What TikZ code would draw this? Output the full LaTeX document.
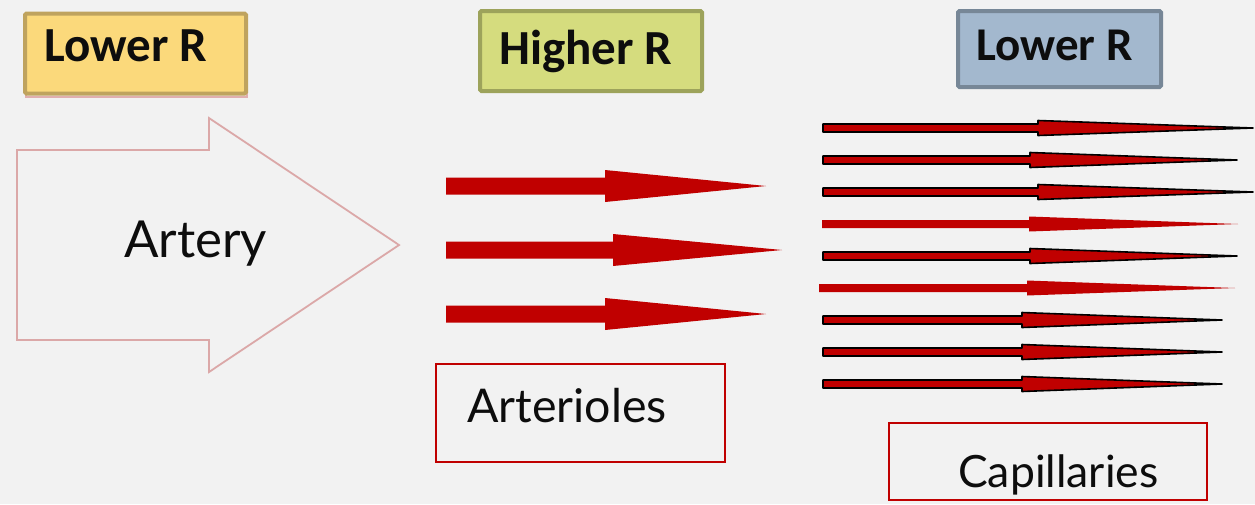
\documentclass[tikz,border=0pt]{standalone}
\usepackage{fontspec}
\setmainfont{Lato}
\newfontfamily\labfont{Carlito}[BoldFont={Carlito Bold}]
\definecolor{bg}{HTML}{F2F2F2}
\definecolor{yfill}{HTML}{FBD97B}
\definecolor{ybord}{HTML}{BFA35E}
\definecolor{yshadow}{HTML}{E0AFAF}
\definecolor{gfill}{HTML}{D5DC7E}
\definecolor{gbord}{HTML}{9DA35B}
\definecolor{bfill}{HTML}{A3B8CE}
\definecolor{bbord}{HTML}{778797}
\definecolor{pinkline}{HTML}{DBA8A8}
\definecolor{arred}{HTML}{C00000}
\newcommand\capar[5]{%
  \filldraw[#5] (#2,#1-4) -- (#3,#1-4) -- (#3,#1-7.5) -- (#4,#1) -- (#3,#1+7.5) -- (#3,#1+4) -- (#2,#1+4) -- cycle;}
\newcommand\artar[4]{%
  \fill[arred] (#2,#1-8.5) -- (#3,#1-8.5) -- (#3,#1-16) -- (#4,#1) -- (#3,#1+16) -- (#3,#1+8.5) -- (#2,#1+8.5) -- cycle;}
\tikzset{
  rbox/.style={draw, line width=4pt, rounded corners=1.5pt, inner sep=0pt},
  rlab/.style={font=\labfont\bfseries\fontsize{49}{55}\selectfont, anchor=base west, inner sep=0pt, text=black!95},
  plab/.style={font=\fontsize{45}{50}\selectfont, anchor=base west, inner sep=0pt, text=black!95},
  redbox/.style={draw=arred, line width=2pt, inner sep=0pt},
  outl/.style={fill=arred, draw=black, line width=1.6pt, line join=round},
  plain/.style={fill=arred, draw=none}
}
\begin{document}
\begin{tikzpicture}[x=1pt,y=-1pt]
\fill[bg] (0,0) rectangle (1255,504);
\useasboundingbox (0,0) rectangle (1255,504);

% header boxes
\draw[yshadow, line width=2pt] (26,16) rectangle (247,97);
\node[rbox, draw=ybord, fill=yfill, minimum width=221pt, minimum height=80pt] (ybox) at (135.5,53.5) {};
\node[rlab] (ylab) at (44,61) {Lower R};

\node[rbox, draw=gbord, fill=gfill, minimum width=222pt, minimum height=80pt] (gbox) at (591,51) {};
\node[rlab] (glab) at (499,64) {Higher R};

\node[rbox, draw=bbord, fill=bfill, minimum width=203pt, minimum height=76pt] (bbox) at (1059.5,49) {};
\node[rlab, font=\labfont\bfseries\fontsize{47}{52}\selectfont] (blab) at (976,60) {Lower R};

% artery block arrow
\draw[pinkline, line width=1.8pt, line join=miter] (17,150) -- (209,150) -- (209,118) -- (399,245) -- (209,372) -- (209,340) -- (17,340) -- cycle;
\node[plab, font=\fontsize{51}{56}\selectfont] (artery) at (124,257) {Artery};

% arteriole arrows
\artar{186}{446}{605}{766}
\artar{250}{446}{613}{782}
\artar{314}{446}{605}{766}

% capillary arrows
\capar{128}{823}{1038}{1253}{outl}
\capar{160}{823}{1030}{1237}{outl}
\capar{192}{823}{1038}{1253}{outl}
\capar{224}{822}{1029}{1238}{plain}
\capar{256}{823}{1030}{1237}{outl}
\capar{288}{819}{1027}{1235}{plain}
\capar{320}{823}{1022}{1222}{outl}
\capar{352}{823}{1022}{1222}{outl}
\capar{384}{823}{1022}{1222}{outl}

% label boxes
\node[redbox, minimum width=289pt, minimum height=98pt] (abox) at (580.5,413) {};
\node[plab, font=\fontsize{46.5}{52}\selectfont] (alab) at (467,422) {Arterioles};
\node[redbox, minimum width=318pt, minimum height=77pt] (cbox) at (1048,461.5) {};
\node[plab, font=\fontsize{44.5}{50}\selectfont] (clab) at (958,487) {Capillaries};
\end{tikzpicture}
\end{document}
